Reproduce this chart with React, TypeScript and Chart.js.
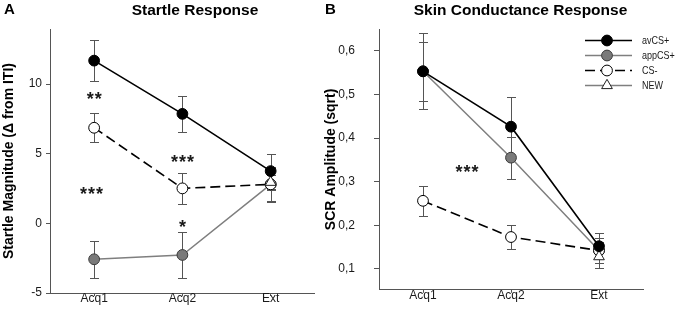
import React, { useEffect, useRef } from 'react';
import { Chart, registerables } from 'chart.js';

Chart.register(...registerables);

// ---------- data ----------
const categories = ['Acq1', 'Acq2', 'Ext'];
const seriesNames = ['avCS+', 'appCS+', 'CS-', 'NEW'];

// Startle response (Δ from ITI)
const startleAvCS = [11.68, 7.86, 3.75];
const startleAvCSErr = [1.47, 1.3, 1.25];
const startleAppCS = [-2.58, -2.27, 2.8];
const startleAppCSErr = [1.33, 1.68, 1.2];
const startleCSminus = [6.86, 2.51, 2.8];
const startleCSminusErr = [1.05, 1.13, 1.25];
const startleNew = [null, null, 2.95];
const startleNewErr = [null, null, 0.55];
const startleTicks = [-5, 0, 5, 10];
const startleMin = -5;
const startleMax = 13.95;
const startleStars = ['**', '***', '***', '*'];
const startleStarCat = [0, 1, -0.03, 1];
const startleStarVal = [9.25, 4.71, 2.44, 0.05];

// Skin conductance response (sqrt)
const scrAvCS = [0.553, 0.426, 0.152];
const scrAvCSErr = [0.067, 0.067, 0.03];
const scrAppCS = [0.553, 0.355, 0.142];
const scrAppCSErr = [0.087, 0.048, 0.028];
const scrCSminus = [0.256, 0.173, 0.142];
const scrCSminusErr = [0.034, 0.028, 0.02];
const scrNew = [null, null, 0.128];
const scrNewErr = [null, null, 0.027];
const scrTicks = [0.1, 0.2, 0.3, 0.4, 0.5, 0.6];
const scrMin = 0.052;
const scrMax = 0.65;
const scrStars = ['***'];
const scrStarCat = [0.5];
const scrStarVal = [0.333];

// ---------- styling ----------
const FONT = 'Arial, "Liberation Sans", Helvetica, sans-serif';
const AXIS = '#555';
const TXT = '#1a1a1a';

function makeDatasets(av: any[], avE: any[], app: any[], appE: any[], cs: any[], csE: any[], nw: any[], nwE: any[]) {
  const avDs: any = {
    label: seriesNames[0], data: av, errors: avE,
    borderColor: '#000', borderWidth: 1.6, pointBackgroundColor: '#000', pointBorderColor: '#000',
    pointRadius: 5.4, pointBorderWidth: 1, pointStyle: 'circle',
  };
  const appDs: any = {
    label: seriesNames[1], data: app, errors: appE,
    borderColor: '#7f7f7f', borderWidth: 1.5, pointBackgroundColor: '#7a7a7a', pointBorderColor: '#3a3a3a',
    pointRadius: 5.4, pointBorderWidth: 1, pointStyle: 'circle',
  };
  const csDs: any = {
    label: seriesNames[2], data: cs, errors: csE,
    borderColor: '#000', borderWidth: 1.6, borderDash: [10, 5], pointBackgroundColor: '#fff', pointBorderColor: '#000',
    pointRadius: 5.4, pointBorderWidth: 1, pointStyle: 'circle',
  };
  const nwDs: any = {
    label: seriesNames[3], data: nw, errors: nwE,
    borderColor: '#7f7f7f', borderWidth: 1.5, pointBackgroundColor: '#fff', pointBorderColor: '#222',
    pointRadius: 6.2, pointBorderWidth: 1, pointStyle: 'triangle',
  };
  // first dataset is drawn on top
  return [avDs, nwDs, csDs, appDs];
}

const errorBarPlugin = {
  id: 'errorBars',
  beforeDatasetsDraw(chart: any) {
    const { ctx } = chart;
    const xs = chart.scales.x;
    const ys = chart.scales.y;
    ctx.save();
    ctx.strokeStyle = AXIS;
    ctx.lineWidth = 1;
    ctx.setLineDash([]);
    chart.data.datasets.forEach((ds: any) => {
      const errs = ds.errors;
      if (!errs) return;
      ds.data.forEach((v: any, j: number) => {
        if (v == null || errs[j] == null) return;
        const px = Math.round(xs.getPixelForValue(j)) + 0.5;
        const top = Math.round(ys.getPixelForValue(v + errs[j])) + 0.5;
        const bot = Math.round(ys.getPixelForValue(v - errs[j])) + 0.5;
        ctx.beginPath();
        ctx.moveTo(px, top); ctx.lineTo(px, bot);
        ctx.moveTo(px - 4.5, top); ctx.lineTo(px + 4.5, top);
        ctx.moveTo(px - 4.5, bot); ctx.lineTo(px + 4.5, bot);
        ctx.stroke();
      });
    });
    ctx.restore();
  },
};

function starsPlugin(labels: string[], cats: number[], vals: number[]) {
  return {
    id: 'stars',
    afterDatasetsDraw(chart: any) {
      const { ctx } = chart;
      const xs = chart.scales.x;
      const ys = chart.scales.y;
      const size = 18;
      ctx.save();
      ctx.fillStyle = TXT;
      ctx.font = `bold ${size}px ${FONT}`;
      ctx.textAlign = 'left';
      ctx.textBaseline = 'alphabetic';
      labels.forEach((s, i) => {
        const cx = xs.getPixelForValue(cats[i]);
        const cy = ys.getPixelForValue(vals[i]);
        const step = 8;
        const n = s.length;
        const glyphW = ctx.measureText('*').width;
        for (let k = 0; k < n; k++) {
          const gx = cx + (k - (n - 1) / 2) * step - glyphW / 2;
          ctx.fillText('*', gx, cy + size * 0.57);
        }
      });
      ctx.restore();
    },
  };
}

function headerPlugin(letter: string, letterX: number, title: string, titleX: number) {
  return {
    id: 'header',
    afterDraw(chart: any) {
      const { ctx } = chart;
      ctx.save();
      ctx.fillStyle = '#000';
      ctx.textBaseline = 'alphabetic';
      ctx.font = `bold 15px ${FONT}`;
      ctx.textAlign = 'left';
      ctx.fillText(letter, letterX, 13.5);
      ctx.font = `bold 15.5px ${FONT}`;
      ctx.textAlign = 'center';
      ctx.fillText(title, titleX, 14.5);
      ctx.restore();
    },
  };
}

const legendPlugin = {
  id: 'customLegend',
  afterDraw(chart: any) {
    const { ctx } = chart;
    const lineX0 = 263;
    const lineX1 = 310;
    const markX = 285;
    const textX = 320;
    const rowY = [40.5, 55.5, 70.5, 85.5];
    ctx.save();
    seriesNames.forEach((name, i) => {
      const ds: any = chart.data.datasets.find((d: any) => d.label === name);
      if (!ds) return;
      const y = rowY[i];
      ctx.strokeStyle = ds.borderColor;
      ctx.lineWidth = ds.borderWidth;
      ctx.setLineDash(ds.borderDash || []);
      ctx.beginPath();
      ctx.moveTo(lineX0, y); ctx.lineTo(lineX1, y);
      ctx.stroke();
      ctx.setLineDash([]);
      ctx.fillStyle = ds.pointBackgroundColor;
      ctx.strokeStyle = ds.pointBorderColor;
      ctx.lineWidth = ds.pointBorderWidth;
      ctx.beginPath();
      const r = ds.pointRadius;
      if (ds.pointStyle === 'triangle') {
        let rad = 0;
        ctx.moveTo(markX + Math.sin(rad) * r, y - Math.cos(rad) * r);
        rad += (2 * Math.PI) / 3;
        ctx.lineTo(markX + Math.sin(rad) * r, y - Math.cos(rad) * r);
        rad += (2 * Math.PI) / 3;
        ctx.lineTo(markX + Math.sin(rad) * r, y - Math.cos(rad) * r);
        ctx.closePath();
      } else {
        ctx.arc(markX, y, r, 0, Math.PI * 2);
      }
      ctx.fill();
      ctx.stroke();
      ctx.save();
      ctx.translate(textX, y);
      ctx.scale(0.82, 1);
      ctx.fillStyle = TXT;
      ctx.font = `11px ${FONT}`;
      ctx.textAlign = 'left';
      ctx.textBaseline = 'middle';
      ctx.fillText(name, 0, 0.5);
      ctx.restore();
    });
    ctx.restore();
  },
};

interface PanelProps {
  left: number;
  width: number;
  datasets: any[];
  yMin: number;
  yMax: number;
  yTicks: number[];
  yTitle: string;
  yAxisWidth: number;
  yTickLen: number;
  yTickPad: number;
  padRight: number;
  tickFormat: (v: number) => string;
  extraPlugins: any[];
}

function Panel(p: PanelProps) {
  const ref = useRef<HTMLCanvasElement | null>(null);
  useEffect(() => {
    if (!ref.current) return;
    const chart = new Chart(ref.current, {
      type: 'line',
      data: { labels: categories, datasets: p.datasets },
      options: {
        animation: false,
        responsive: false,
        devicePixelRatio: 1,
        layout: { padding: { top: 29, right: p.padRight, left: 0, bottom: 0 } },
        plugins: { legend: { display: false }, tooltip: { enabled: false }, title: { display: false } },
        elements: { line: { tension: 0 } },
        scales: {
          x: {
            type: 'category',
            offset: true,
            grid: { display: true, drawOnChartArea: false, drawTicks: true, tickLength: 3, tickColor: AXIS, offset: false },
            border: { display: true, color: AXIS, width: 1 },
            ticks: { color: TXT, font: { family: FONT, size: 12, lineHeight: 1 }, padding: -3, maxRotation: 0 },
            afterFit: (s: any) => { s.height = 23; },
          },
          y: {
            type: 'linear',
            min: p.yMin,
            max: p.yMax,
            grid: { display: true, drawOnChartArea: false, drawTicks: true, tickLength: p.yTickLen, tickColor: AXIS },
            border: { display: true, color: AXIS, width: 1 },
            ticks: {
              color: TXT,
              font: { family: FONT, size: 12 },
              padding: p.yTickPad,
              callback: (v: any) => p.tickFormat(Number(v)),
            },
            afterBuildTicks: (s: any) => { s.ticks = p.yTicks.map((v) => ({ value: v })); },
            title: {
              display: true,
              text: p.yTitle,
              color: '#000',
              font: { family: FONT, size: 14, weight: 'bold', lineHeight: 1.2 },
              padding: { top: 1, bottom: 0 },
            },
            afterFit: (s: any) => { s.width = p.yAxisWidth; },
          },
        },
      } as any,
      plugins: [errorBarPlugin, ...p.extraPlugins],
    });
    return () => chart.destroy();
  }, []);
  return (
    <canvas
      ref={ref}
      width={p.width}
      height={316}
      style={{ position: 'absolute', left: p.left, top: 0, width: p.width, height: 316 }}
    />
  );
}

export default function App() {
  const startleDatasets = makeDatasets(
    startleAvCS, startleAvCSErr, startleAppCS, startleAppCSErr,
    startleCSminus, startleCSminusErr, startleNew, startleNewErr,
  );
  const scrDatasets = makeDatasets(
    scrAvCS, scrAvCSErr, scrAppCS, scrAppCSErr,
    scrCSminus, scrCSminusErr, scrNew, scrNewErr,
  );
  return (
    <div style={{ position: 'fixed', left: 0, top: 0, width: 680, height: 316, background: '#fff', overflow: 'hidden' }}>
      <Panel
        left={0}
        width={322}
        datasets={startleDatasets}
        yMin={startleMin}
        yMax={startleMax}
        yTicks={startleTicks}
        yTitle={'Startle Magnitude (\u0394 from ITI)'}
        yAxisWidth={50}
        yTickLen={4}
        yTickPad={4}
        padRight={7}
        tickFormat={(v) => String(v)}
        extraPlugins={[
          starsPlugin(startleStars, startleStarCat, startleStarVal),
          headerPlugin('A', 4, 'Startle Response', 195),
        ]}
      />
      <Panel
        left={322}
        width={358}
        datasets={scrDatasets}
        yMin={scrMin}
        yMax={scrMax}
        yTicks={scrTicks}
        yTitle={'SCR Amplitude (sqrt)'}
        yAxisWidth={57}
        yTickLen={5}
        yTickPad={19}
        padRight={37}
        tickFormat={(v) => v.toFixed(1).replace('.', ',')}
        extraPlugins={[
          starsPlugin(scrStars, scrStarCat, scrStarVal),
          headerPlugin('B', 3, 'Skin Conductance Response', 198.5),
          legendPlugin,
        ]}
      />
    </div>
  );
}
